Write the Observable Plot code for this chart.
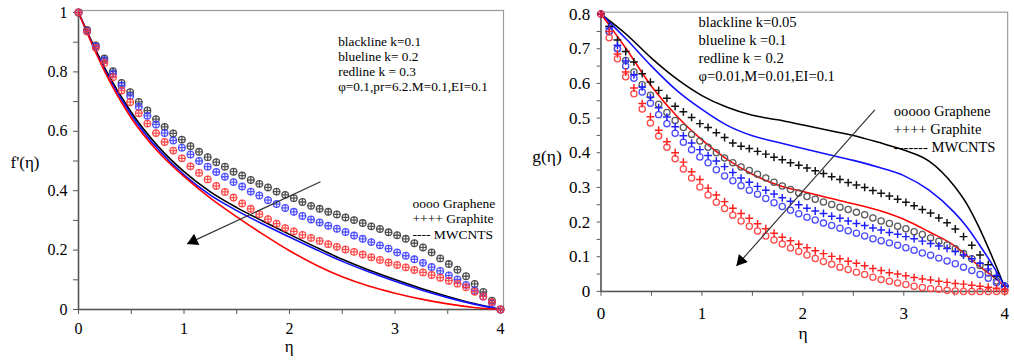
<!DOCTYPE html>
<html><head><meta charset="utf-8">
<script src="https://cdn.jsdelivr.net/npm/d3@7"></script>
<script src="https://cdn.jsdelivr.net/npm/@observablehq/plot@0.6"></script>
<style>
html,body{margin:0;padding:0;background:#fff;}
#wrap{position:relative;width:1014px;height:361px;overflow:hidden;background:#fff;}
#left{position:absolute;left:0;top:0;}
#right{position:absolute;left:510px;top:0;}
svg, svg text{font-family:"Liberation Serif","Times New Roman",Times,serif !important;}
</style></head>
<body><div id="wrap"><div id="left"></div><div id="right"></div></div>
<script>
// ---------- LEFT PANEL: f'(eta) ----------
const fLineEta = [0,0.25,0.5,0.75,1,1.25,1.5,1.75,2,2.25,2.5,2.75,3,3.25,3.5,3.75,4];
const fLineK01 = [1.0,0.812,0.664,0.551,0.464,0.396,0.343,0.297,0.253,0.210,0.169,0.133,0.101,0.071,0.044,0.020,0.0];
const fLineK02 = [1.0,0.805,0.655,0.541,0.453,0.385,0.333,0.287,0.244,0.202,0.162,0.127,0.095,0.066,0.040,0.018,0.0];
const fLineK03 = [1.0,0.800,0.645,0.533,0.448,0.375,0.312,0.253,0.198,0.150,0.110,0.079,0.055,0.035,0.019,0.007,0.0];
// Graphene (o) and Graphite (+) markers coincide in the left panel
const fMarkK01 = [1.000,0.941,0.889,0.845,0.802,0.763,0.732,0.699,0.670,0.641,
 0.615,0.593,0.572,0.550,0.531,0.513,0.496,0.481,0.464,0.451,
 0.436,0.423,0.411,0.397,0.386,0.375,0.362,0.349,0.339,0.329,
 0.320,0.310,0.301,0.291,0.280,0.271,0.260,0.250,0.238,0.223,
 0.209,0.192,0.172,0.153,0.134,0.112,0.086,0.059,0.030,0.000];
const fMarkK02 = [1.000,0.938,0.886,0.839,0.795,0.754,0.719,0.683,0.652,0.623,
 0.594,0.569,0.545,0.522,0.500,0.481,0.463,0.447,0.429,0.414,
 0.397,0.384,0.368,0.355,0.342,0.329,0.315,0.303,0.293,0.282,
 0.272,0.261,0.249,0.238,0.227,0.216,0.205,0.192,0.181,0.169,
 0.157,0.143,0.130,0.115,0.101,0.083,0.064,0.044,0.022,0.000];
const fMarkK03 = [1.000,0.936,0.881,0.830,0.782,0.737,0.698,0.661,0.626,0.594,
 0.564,0.535,0.509,0.482,0.460,0.438,0.416,0.396,0.377,0.357,
 0.339,0.321,0.304,0.289,0.274,0.263,0.251,0.241,0.231,0.220,
 0.211,0.202,0.194,0.185,0.176,0.167,0.158,0.150,0.142,0.133,
 0.125,0.116,0.107,0.097,0.087,0.075,0.060,0.044,0.025,0.000];
const fYTicks = [0,0.2,0.4,0.6,0.8,1];
const fYTickLabels = ["0","0.2","0.4","0.6","0.8","1"];
const fYMinorTicks = [0.1,0.3,0.5,0.7,0.9];
const fAnnotation = ["blackline k=0.1","blueline k= 0.2","redline k = 0.3","\u03c6=0.1,pr=6.2.M=0.1,EI=0.1"];
const fLegend = ["oooo Graphene","++++ Graphite","---- MWCNTS"];
const fArrow = [{x1:2.294,y1:0.430,x2:1.03,y2:0.221}];

// ---------- RIGHT PANEL: g(eta) ----------
const gLineEta = [0,0.25,0.5,0.75,1,1.25,1.5,1.75,2,2.25,2.5,2.75,3,3.25,3.5,3.625,3.75,3.875,4];
const gLineK005 = [0.8,0.742,0.673,0.613,0.565,0.531,0.508,0.495,0.480,0.465,0.450,0.430,0.408,0.376,0.304,0.252,0.182,0.100,0.012];
const gLineK01  = [0.8,0.728,0.650,0.580,0.525,0.479,0.449,0.430,0.412,0.395,0.378,0.358,0.334,0.292,0.228,0.186,0.134,0.078,0.015];
const gLineK02  = [0.8,0.700,0.592,0.506,0.437,0.381,0.338,0.307,0.288,0.270,0.253,0.234,0.208,0.172,0.132,0.103,0.072,0.045,0.015];
const gGrapheneK005 = [0.800,0.750,0.700,0.666,0.633,0.596,0.566,0.540,0.516,0.493,
 0.473,0.453,0.434,0.416,0.400,0.385,0.371,0.359,0.349,0.338,
 0.327,0.315,0.304,0.294,0.284,0.274,0.266,0.258,0.251,0.243,
 0.236,0.228,0.221,0.212,0.203,0.196,0.188,0.181,0.172,0.164,
 0.154,0.145,0.134,0.123,0.109,0.094,0.075,0.053,0.030,0.015];
const gGraphiteK005 = [0.800,0.765,0.725,0.692,0.662,0.628,0.604,0.580,0.557,0.534,
 0.518,0.502,0.484,0.473,0.458,0.444,0.428,0.419,0.412,0.404,
 0.396,0.387,0.380,0.371,0.364,0.356,0.348,0.340,0.331,0.323,
 0.314,0.307,0.300,0.291,0.283,0.275,0.266,0.257,0.247,0.236,
 0.226,0.212,0.198,0.180,0.158,0.133,0.105,0.077,0.044,0.015];
const gGrapheneK01 = [0.800,0.750,0.700,0.650,0.615,0.575,0.543,0.510,0.484,0.456,
 0.430,0.409,0.388,0.371,0.351,0.333,0.319,0.305,0.292,0.280,
 0.268,0.256,0.245,0.234,0.224,0.214,0.206,0.197,0.190,0.182,
 0.175,0.168,0.160,0.152,0.146,0.140,0.133,0.126,0.119,0.111,
 0.104,0.096,0.088,0.080,0.070,0.060,0.049,0.038,0.025,0.015];
const gGraphiteK01 = [0.800,0.760,0.710,0.665,0.625,0.590,0.560,0.530,0.503,0.475,
 0.449,0.428,0.409,0.392,0.376,0.360,0.343,0.327,0.315,0.303,
 0.292,0.281,0.270,0.260,0.250,0.240,0.232,0.225,0.217,0.211,
 0.203,0.196,0.190,0.183,0.177,0.170,0.165,0.158,0.152,0.145,
 0.138,0.131,0.124,0.115,0.105,0.094,0.081,0.065,0.046,0.015];
const gGrapheneK02 = [0.800,0.732,0.671,0.619,0.570,0.526,0.486,0.448,0.416,0.383,
 0.353,0.327,0.301,0.278,0.257,0.239,0.220,0.203,0.188,0.174,
 0.160,0.148,0.137,0.125,0.115,0.105,0.095,0.086,0.078,0.070,
 0.063,0.055,0.049,0.041,0.034,0.029,0.024,0.020,0.015,0.011,
 0.008,0.006,0.003,0.001,0.000,0.000,0.000,0.000,0.000,0.000];
const gGraphiteK02 = [0.800,0.750,0.685,0.633,0.587,0.542,0.504,0.465,0.432,0.400,
 0.373,0.345,0.323,0.298,0.278,0.259,0.240,0.225,0.211,0.195,
 0.181,0.168,0.156,0.146,0.136,0.126,0.117,0.109,0.101,0.094,
 0.087,0.081,0.074,0.066,0.060,0.054,0.050,0.045,0.040,0.036,
 0.033,0.029,0.026,0.023,0.021,0.018,0.015,0.012,0.009,0.005];
const gYTicks = [0,0.1,0.2,0.3,0.4,0.5,0.6,0.7,0.8];
const gYTickLabels = ["0","0.1","0.2","0.3","0.4","0.5","0.6","0.7","0.8"];
const gYMinorTicks = [0.05,0.15,0.25,0.35,0.45,0.55,0.65,0.75];
const gAnnotation = ["blackline k=0.05","blueline k =0.1","redline k = 0.2","\u03c6=0.01,M=0.01,EI=0.1"];
const gLegend = ["ooooo Graphene","++++ Graphite","------- MWCNTS"];
const gArrow = [{x1:2.713,y1:0.524,x2:1.343,y2:0.074}];

// shared x ticks
const xTicks = [0,1,2,3,4];
const xTickLabels = ["0","1","2","3","4"];
const xMinorTicks = [0.5,1.5,2.5,3.5];
const markerCount = 50;

// ---------- helpers ----------
const SERIF = "Liberation Serif, Times New Roman, serif";
const plusSymbol = {draw(ctx, size){ const r = Math.sqrt(size/Math.PI); ctx.moveTo(-r,0); ctx.lineTo(r,0); ctx.moveTo(0,-r); ctx.lineTo(0,r); }};
const gridEta = d3.range(markerCount).map(i => i*4/(markerCount-1));
const pts = vals => vals.map((v,i) => ({eta: gridEta[i], v}));
const linePts = (etas, vals) => vals.map((v,i) => ({eta: etas[i], v}));

function axes(yTicks, yLabels, yMinor, o){
  return [
    Plot.frame({stroke:"#9a9a9a", strokeWidth:1.2}),
    Plot.ruleX([0], {stroke:"#555", strokeWidth:1.5}),
    Plot.ruleY([0], {stroke:"#555", strokeWidth:1.5}),
    Plot.axisY(yMinor, {tickSize:o.ySize, tickFormat:()=>"", stroke:"#555", label:null}),
    Plot.axisY(yTicks, {tickSize:o.ySize, tickPadding:o.yPad, stroke:"#555", fill:"#000", fontSize:o.fs,
      tickFormat: d => yLabels[yTicks.indexOf(d)], label:null}),
    Plot.axisX(xMinorTicks, {tickSize:5, tickFormat:()=>"", stroke:"#555", label:null}),
    Plot.axisX(xTicks, {tickSize:5, tickPadding:o.xPad, stroke:"#555", fill:"#000", fontSize:o.fs,
      tickFormat: d => xTickLabels[xTicks.indexOf(d)], label:null})
  ];
}

function arrowMarks(arr, ddx, ddy, rot){
  return [
    Plot.link(arr, {x1:"x1", y1:"y1", x2:"x2", y2:"y2", stroke:"#333", strokeWidth:1.2}),
    Plot.dot(arr, {x:"x2", y:"y2", dx:ddx, dy:ddy, symbol:"triangle", r:4.6, fill:"#000", stroke:"none", rotate:rot})
  ];
}

// ---------- LEFT CHART ----------
const fColors = {k01:"#3a3a3a", k02:"#3b3bff", k03:"#ff3535"};
const left = Plot.plot({
  width:510, height:361,
  marginLeft:78, marginRight:7, marginTop:10, marginBottom:52,
  x:{domain:[0,4], insetRight:3, label:null},
  y:{domain:[0,1], insetTop:2, label:null},
  style:{fontFamily:SERIF, fontSize:"16px", color:"#000", background:"white", overflow:"visible"},
  marks:[
    ...axes(fYTicks, fYTickLabels, fYMinorTicks, {ySize:5, yPad:6, xPad:8, fs:16}),
    Plot.line(linePts(fLineEta, fLineK01), {x:"eta", y:"v", stroke:"#000", strokeWidth:1.6, curve:"monotone-x"}),
    Plot.line(linePts(fLineEta, fLineK02), {x:"eta", y:"v", stroke:"#1010ff", strokeWidth:1.6, curve:"monotone-x"}),
    Plot.line(linePts(fLineEta, fLineK03), {x:"eta", y:"v", stroke:"#ff0000", strokeWidth:1.6, curve:"monotone-x"}),
    ...[[fMarkK01,fColors.k01],[fMarkK02,fColors.k02],[fMarkK03,fColors.k03]].flatMap(([vals,c]) => [
      Plot.dot(pts(vals), {x:"eta", y:"v", r:3.3, stroke:c, strokeWidth:1.3, fill:"none", strokeOpacity:0.85}),
      Plot.dot(pts(vals), {x:"eta", y:"v", r:3.6, symbol:plusSymbol, stroke:c, strokeWidth:1.3, fill:"none", strokeOpacity:0.85})
    ]),
    ...arrowMarks(fArrow, 6.3, -3.0, 245),
    Plot.text([fAnnotation.join("\n")], {text:d=>d, frameAnchor:"top-left", dx:259.7, dy:24.7, textAnchor:"start", lineAnchor:"top", lineHeight:1.14, fontSize:13.3, fill:"#000"}),
    Plot.text([fLegend.join("\n")], {text:d=>d, frameAnchor:"top-left", dx:334, dy:186.4, textAnchor:"start", lineAnchor:"top", lineHeight:1.14, fontSize:13.5, fill:"#000"}),
    Plot.text(["f'(\u03b7)"], {text:d=>d, frameAnchor:"left", dx:-53.5, dy:2.5, textAnchor:"middle", fontSize:17, fill:"#000"}),
    Plot.text(["\u03b7"], {text:d=>d, frameAnchor:"bottom", dx:-1.8, dy:42, textAnchor:"middle", fontSize:17, fill:"#000"})
  ]
});
document.getElementById("left").appendChild(left);

// ---------- RIGHT CHART ----------
const right = Plot.plot({
  width:518, height:361,
  marginLeft:93, marginRight:7, marginTop:12, marginBottom:62,
  x:{domain:[0,4], insetRight:3, label:null},
  y:{domain:[0,0.8], insetTop:2, label:null},
  style:{fontFamily:SERIF, fontSize:"17px", color:"#000", background:"white", overflow:"visible"},
  marks:[
    ...axes(gYTicks, gYTickLabels, gYMinorTicks, {ySize:4, yPad:7, xPad:11, fs:17.5}),
    Plot.line(linePts(gLineEta, gLineK005), {x:"eta", y:"v", stroke:"#000", strokeWidth:1.6, curve:"monotone-x"}),
    Plot.line(linePts(gLineEta, gLineK01), {x:"eta", y:"v", stroke:"#1010ff", strokeWidth:1.6, curve:"monotone-x"}),
    Plot.line(linePts(gLineEta, gLineK02), {x:"eta", y:"v", stroke:"#ff0000", strokeWidth:1.6, curve:"monotone-x"}),
    Plot.dot(pts(gGrapheneK005), {x:"eta", y:"v", r:3.2, stroke:"#5a5a5a", strokeWidth:1.3, fill:"none"}),
    Plot.dot(pts(gGrapheneK01), {x:"eta", y:"v", r:3.2, stroke:"#4a4aff", strokeWidth:1.3, fill:"none"}),
    Plot.dot(pts(gGrapheneK02), {x:"eta", y:"v", r:3.2, stroke:"#ff4a4a", strokeWidth:1.3, fill:"none"}),
    Plot.dot(pts(gGraphiteK005), {x:"eta", y:"v", r:4, symbol:plusSymbol, stroke:"#111", strokeWidth:1.5, fill:"none"}),
    Plot.dot(pts(gGraphiteK01), {x:"eta", y:"v", r:4, symbol:plusSymbol, stroke:"#2020ff", strokeWidth:1.5, fill:"none"}),
    Plot.dot(pts(gGraphiteK02), {x:"eta", y:"v", r:4, symbol:plusSymbol, stroke:"#ff2020", strokeWidth:1.5, fill:"none"}),
    ...arrowMarks(gArrow, 4.6, -5.2, 221.5),
    Plot.text([gAnnotation.join("\n")], {text:d=>d, frameAnchor:"top-left", dx:100.3, dy:2.6, textAnchor:"start", lineAnchor:"top", lineHeight:1.23, fontSize:15, fill:"#000"}),
    Plot.text([gLegend.join("\n")], {text:d=>d, frameAnchor:"top-left", dx:301, dy:93, textAnchor:"start", lineAnchor:"top", lineHeight:1.245, fontSize:15, fill:"#000"}),
    Plot.text(["g(\u03b7)"], {text:d=>d, frameAnchor:"left", dx:-55.5, dy:4.5, textAnchor:"middle", fontSize:18, fill:"#000"}),
    Plot.text(["\u03b7"], {text:d=>d, frameAnchor:"bottom", dx:-1.3, dy:48.5, textAnchor:"middle", fontSize:18, fill:"#000"})
  ]
});
document.getElementById("right").appendChild(right);
</script>
</body></html>
